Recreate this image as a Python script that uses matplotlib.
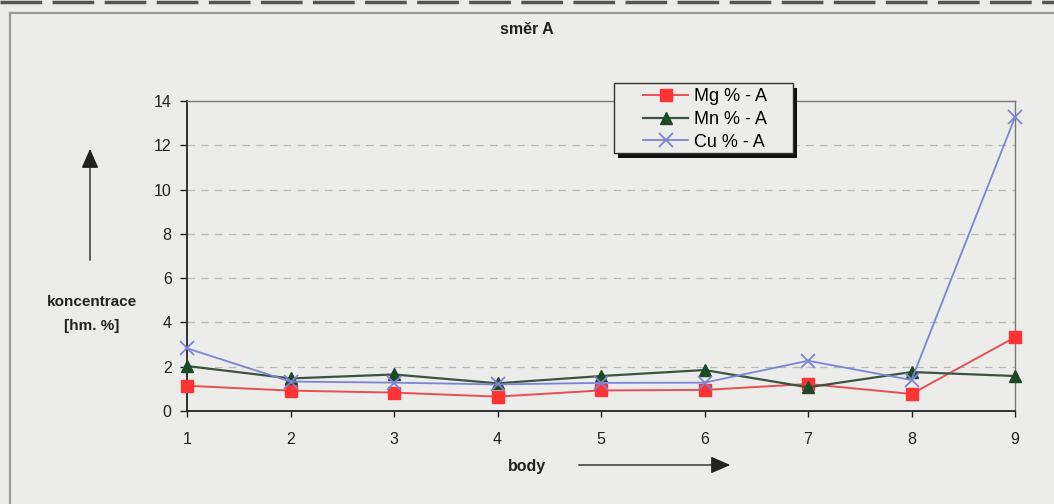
import matplotlib
matplotlib.use("Agg")
import matplotlib.pyplot as plt
from matplotlib.patches import Rectangle, FancyArrowPatch
from matplotlib.lines import Line2D

body = [1, 2, 3, 4, 5, 6, 7, 8, 9]
mg = [1.14, 0.92, 0.83, 0.65, 0.93, 0.95, 1.22, 0.77, 3.33]
mn = [2.03, 1.47, 1.65, 1.25, 1.58, 1.85, 1.07, 1.76, 1.58]
cu = [2.83, 1.33, 1.28, 1.20, 1.27, 1.28, 2.27, 1.40, 13.27]
yticks = [0, 2, 4, 6, 8, 10, 12, 14]

W, H = 1054, 504
plt.rcParams['font.family'] = ['Liberation Sans', 'DejaVu Sans']
fig = plt.figure(figsize=(W / 100, H / 100), dpi=100)
bg = '#ececea'
fig.patch.set_facecolor(bg)

def fx(px):
    return px / W

def fy(py):
    return 1 - py / H

# outer frame
fig.add_artist(Line2D([fx(10), fx(10)], [fy(13), fy(504)], color='#9a9a9a', lw=1.6, transform=fig.transFigure))
fig.add_artist(Line2D([fx(10), fx(1054)], [fy(13), fy(13)], color='#9a9a9a', lw=1.6, transform=fig.transFigure))
fig.add_artist(Line2D([0, 1], [fy(1.5), fy(1.5)], color='#555555', lw=2.5, ls=(0, (12, 3)), transform=fig.transFigure))

ax = fig.add_axes([fx(187), fy(411), fx(1015) - fx(187), fy(101) - fy(411)])
ax.set_facecolor(bg)
ax.set_xlim(1, 9)
ax.set_ylim(0, 14)

for yv in yticks[1:-1]:
    ax.axhline(yv, color='#b8b8b8', lw=0.9, ls=(0, (6, 5)), zorder=0)

ax.plot(body, mg, color='#e85050', lw=1.4, marker='s', markersize=8,
        markerfacecolor='#ff3333', markeredgecolor='#ff3333', label='Mg % - A', zorder=3, clip_on=False)
ax.plot(body, mn, color='#3b5440', lw=1.6, marker='^', markersize=8,
        markerfacecolor='#1c4a26', markeredgecolor='#1c4a26', label='Mn % - A', zorder=4, clip_on=False)
ax.plot(body, cu, color='#7c84d4', lw=1.3, marker='x', markersize=10, markeredgewidth=1.3,
        label='Cu % - A', zorder=5, clip_on=False)

for s in ['top', 'right']:
    ax.spines[s].set_color('#777777')
    ax.spines[s].set_linewidth(1.0)
for s in ['left', 'bottom']:
    ax.spines[s].set_color('#222222')
    ax.spines[s].set_linewidth(1.3)

ax.set_yticks(yticks)
ax.set_xticks(body)
ax.tick_params(axis='y', direction='out', length=5, width=1, colors='#222222', labelsize=11.5, pad=6)
ax.tick_params(axis='x', direction='out', length=4, width=1, colors='#222222', labelsize=11.5, pad=11)

# legend box with shadow
fig.add_artist(Rectangle((fx(618), fy(158)), fx(793) - fx(614), fy(83) - fy(153), transform=fig.transFigure,
                         facecolor='#111111', edgecolor='none', zorder=8))
fig.add_artist(Rectangle((fx(614), fy(153)), fx(793) - fx(614), fy(83) - fy(153), transform=fig.transFigure,
                         facecolor=bg, edgecolor='#333333', lw=1.0, zorder=9))
leg = ax.legend(loc='upper left', bbox_to_anchor=(fx(636), fy(81)), bbox_transform=fig.transFigure,
                borderaxespad=0, frameon=False, fontsize=13, handlelength=2.5,
                handletextpad=0.3, labelspacing=0.32, borderpad=0.4)
leg.set_zorder(10)
fig.add_artist(leg)

fig.text(fx(527), fy(30), 'směr A', ha='center', va='center', fontsize=11.5, fontweight='bold', color='#222222')
fig.text(fx(92), fy(302), 'koncentrace', ha='center', va='center', fontsize=11, fontweight='bold', color='#222222')
fig.text(fx(92), fy(326), '[hm. %]', ha='center', va='center', fontsize=11, fontweight='bold', color='#222222')
fig.text(fx(527), fy(466), 'body', ha='center', va='center', fontsize=11.5, fontweight='bold', color='#222222')

fig.add_artist(FancyArrowPatch((fx(90), fy(263)), (fx(90), fy(146)),
               transform=fig.transFigure, arrowstyle='-|>,head_length=8,head_width=3.5',
               color='#222222', lw=1.0, mutation_scale=1.5))
fig.add_artist(FancyArrowPatch((fx(576), fy(465)), (fx(733), fy(465)),
               transform=fig.transFigure, arrowstyle='-|>,head_length=8,head_width=3.5',
               color='#222222', lw=1.0, mutation_scale=1.5))

fig.savefig('out.png', dpi=100, facecolor=bg)
